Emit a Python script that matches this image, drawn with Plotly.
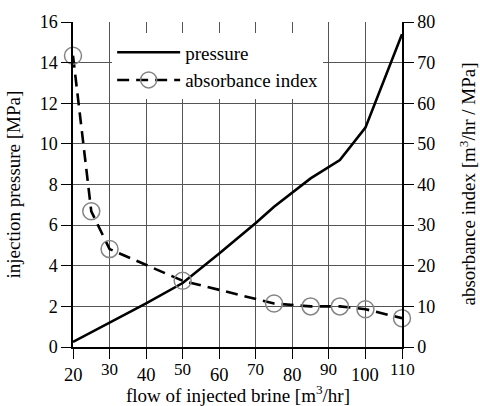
import plotly.graph_objects as go

# Data
flow_p = [20, 30, 40, 50, 60, 70, 75, 85, 93, 100, 110]
pressure = [0.25, 1.2, 2.15, 3.15, 4.6, 6.1, 6.9, 8.3, 9.2, 10.8, 15.4]

flow_a = [20, 25, 30, 50, 75, 85, 93, 100, 110]
absorbance = [71.7, 33.4, 24.1, 16.3, 10.7, 10.0, 10.0, 9.3, 7.1]

xticks = [20, 30, 40, 50, 60, 70, 80, 90, 100, 110]
yticks_left = [0, 2, 4, 6, 8, 10, 12, 14, 16]
yticks_right = [0, 10, 20, 30, 40, 50, 60, 70, 80]

FONT = "Liberation Serif, Times New Roman, serif"
fig = go.Figure()

fig.add_trace(go.Scatter(
    x=flow_p, y=pressure, mode="lines", name="pressure",
    line=dict(color="black", width=2.6),
))
fig.add_trace(go.Scatter(
    x=flow_a, y=absorbance, mode="lines+markers", name="absorbance index",
    yaxis="y2", cliponaxis=False,
    line=dict(color="black", width=2.6, dash="12px,7px"),
    marker=dict(symbol="circle-open", size=17, color="#858585",
                line=dict(width=1.5, color="#858585")),
))

annotations = []
for i, t in enumerate(xticks):
    odd = i % 2 == 1
    annotations.append(dict(
        x=t, xref="x", y=0, yref="paper", text=str(t), showarrow=False,
        yanchor="middle", xanchor="center", yshift=-22 if odd else -28,
        font=dict(family=FONT, size=17 if odd else 18.5, color="black"),
    ))
annotations.append(dict(
    x=0.5, xref="paper", y=0, yref="paper",
    text="flow of injected brine [m<sup>3</sup>/hr]", showarrow=False,
    yanchor="middle", xanchor="center", yshift=-47,
    font=dict(family=FONT, size=19, color="black"),
))
annotations.append(dict(
    x=0, xref="paper", y=0.5, yref="paper", textangle=-90,
    text="injection pressure [MPa]", showarrow=False,
    yanchor="middle", xanchor="center", xshift=-60,
    font=dict(family=FONT, size=19, color="black"),
))
annotations.append(dict(
    x=1, xref="paper", y=0.5, yref="paper", textangle=-90,
    text="absorbance index [m<sup>3</sup>/hr / MPa]", showarrow=False,
    yanchor="middle", xanchor="center", xshift=65,
    font=dict(family=FONT, size=19, color="black"),
))

fig.update_layout(
    width=480, height=406,
    margin=dict(l=73, r=78, t=19, b=59),
    paper_bgcolor="white", plot_bgcolor="white",
    font=dict(family=FONT, size=18, color="black"),
    showlegend=True,
    legend=dict(x=0.119, y=0.965, xanchor="left", yanchor="top",
                bgcolor="white", borderwidth=0,
                font=dict(family=FONT, size=19, color="black"),
                tracegroupgap=0, itemwidth=63),
    xaxis=dict(range=[20, 110], tickvals=xticks, showticklabels=False,
               ticks="outside", ticklen=10, tickcolor="black",
               showline=True, linecolor="black", linewidth=1.5,
               showgrid=True, gridcolor="#555", gridwidth=1, zeroline=False),
    yaxis=dict(range=[0, 16], tickvals=yticks_left, ticks="outside",
               ticklen=10, tickcolor="black",
               showline=True, linecolor="black", linewidth=1.5,
               showgrid=True, gridcolor="#555", gridwidth=1, zeroline=False,
               tickfont=dict(family=FONT, size=18, color="black")),
    yaxis2=dict(range=[0, 80], tickvals=yticks_right, overlaying="y",
                side="right", ticks="outside", ticklen=10, tickcolor="black",
                showline=True, linecolor="black", linewidth=1.5,
                showgrid=False, zeroline=False,
                tickfont=dict(family=FONT, size=18, color="black")),
    annotations=annotations,
)

fig.write_html("out.html")
